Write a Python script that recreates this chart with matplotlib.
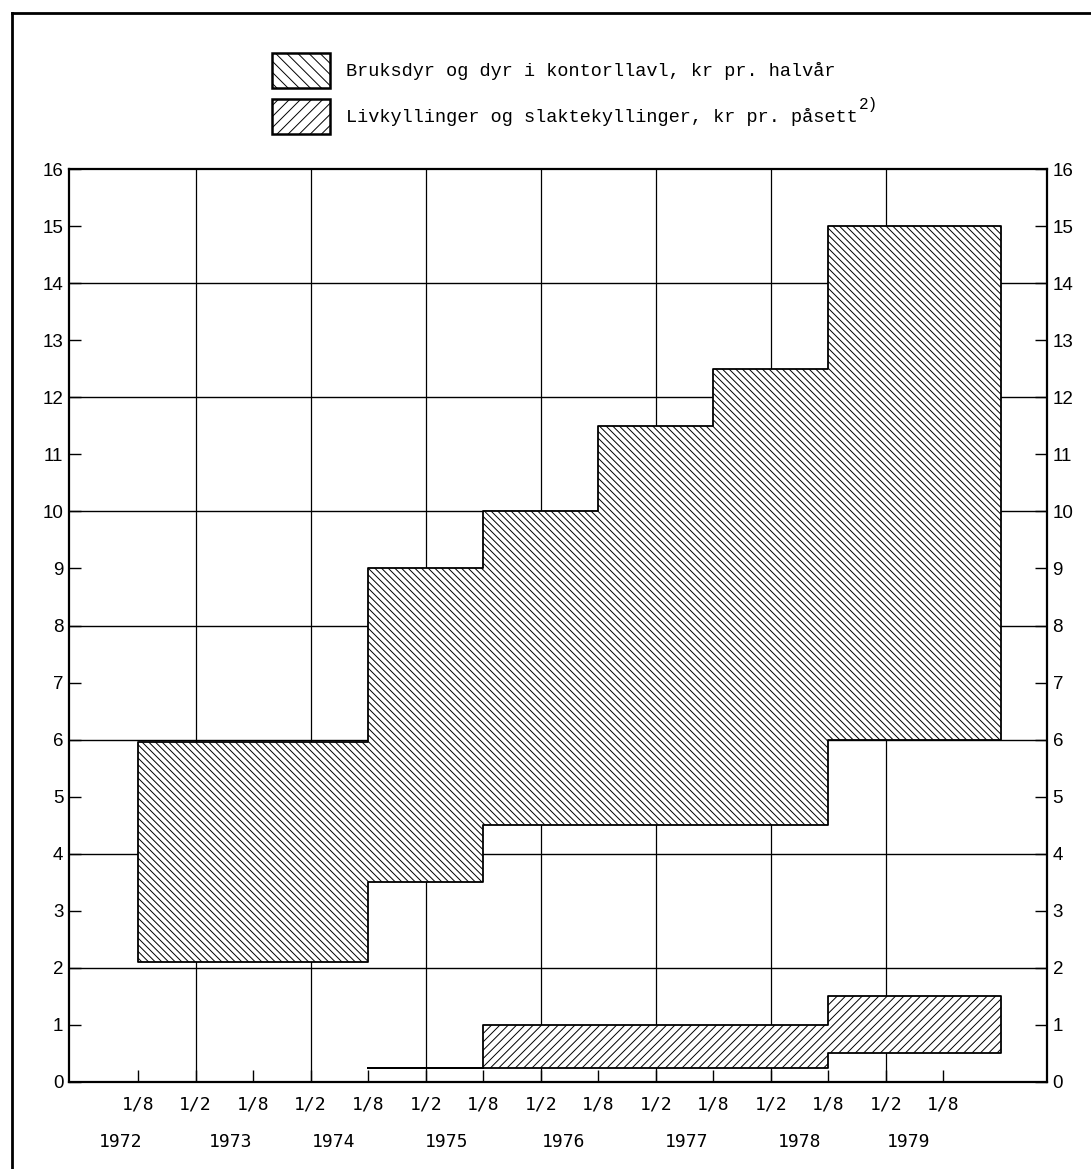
import numpy as np
import matplotlib
matplotlib.use("Agg")
import matplotlib.pyplot as plt
from matplotlib.patches import Rectangle
from matplotlib.lines import Line2D

plt.rcParams['hatch.linewidth'] = 0.7

# half-year periods, 0 = 1/8 1972, 1 = 1/2 1973, ...
tick_labels = ["1/8", "1/2"] * 7 + ["1/8"]
years = ["1972", "1973", "1974", "1975", "1976", "1977", "1978", "1979"]
year_pos = [-0.31, 1.6, 3.4, 5.37, 7.4, 9.53, 11.5, 13.4]

# Bruksdyr og dyr i kontorllavl (period edges, low, high)
bruks_edges = [0, 4, 6, 8, 10, 12, 15]
bruks_low = [2.1, 3.5, 4.5, 4.5, 4.5, 6.0]
bruks_high = [5.95, 9.0, 10.0, 11.5, 12.5, 15.0]

# Livkyllinger og slaktekyllinger
livk_edges = [4, 6, 12, 15]
livk_low = [0.25, 0.25, 0.5]
livk_high = [0.25, 1.0, 1.5]

W, H = 1091, 1169
fig = plt.figure(figsize=(W / 100, H / 100), dpi=100)
ax = fig.add_axes([69 / W, 1 - 1082 / H, (1047 - 69) / W, 913 / H])

# grid
for y in range(2, 16, 2):
    ax.axhline(y, color="black", lw=1.0, zorder=1)
for x in range(1, 14, 2):
    ax.axvline(x, color="black", lw=0.9, zorder=1)

# stepped bands
ax.fill_between(bruks_edges, bruks_low + bruks_low[-1:], bruks_high + bruks_high[-1:],
                step="post", facecolor="white", edgecolor="black", lw=1.3,
                hatch="\\" * 5, zorder=2)
ax.fill_between(livk_edges, livk_low + livk_low[-1:], livk_high + livk_high[-1:],
                step="post", facecolor="white", edgecolor="black", lw=1.3,
                hatch="////", zorder=2)

ax.set_xlim(-1.2, 15.8)
ax.set_ylim(0, 16)

ax.set_xticks(range(len(tick_labels)))
ax.set_xticklabels(tick_labels, family="DejaVu Sans Mono", fontsize=13)
ax.set_yticks(range(0, 17))
ax.tick_params(axis="x", direction="in", length=8.6, width=1.0, pad=10, bottom=True, top=False)
ax.tick_params(axis="y", direction="in", length=8.6, width=1.0, left=True, right=True,
               labelleft=True, labelright=True, labelsize=13.5, pad=4)
for lab in ax.get_yticklabels():
    lab.set_family("Liberation Sans")

for s in ax.spines.values():
    s.set_linewidth(1.6)

xform = ax.get_xaxis_transform()
for yr, xp in zip(years, year_pos):
    ax.text(xp, -0.066, yr, transform=xform, ha="center", va="center",
            family="DejaVu Sans Mono", fontsize=13)

# legend
legend_items = [
    ("\\\\\\", "Bruksdyr og dyr i kontorllavl, kr pr. halvår", 53),
    ("///", "Livkyllinger og slaktekyllinger, kr pr. påsett", 99),
]
for hatch, label, ytop in legend_items:
    fig.patches.append(Rectangle((272 / W, 1 - (ytop + 35) / H), 58 / W, 35 / H,
                                 transform=fig.transFigure, facecolor="white",
                                 edgecolor="black", lw=1.8, hatch=hatch))
    t = fig.text(346 / W, 1 - (ytop + 18) / H, label, family="Liberation Mono",
                 fontsize=13.4, va="center", ha="left")
last = t
ax.annotate("2)", xy=(1, 0.8), xycoords=last, xytext=(1, 0),
            textcoords="offset points", family="Liberation Mono", fontsize=11.5,
            va="bottom", ha="left", annotation_clip=False)

# outer frame (left and top edges)
fig.lines.append(Line2D([12 / W, 12 / W], [0, 1 - 13 / H], transform=fig.transFigure,
                        color="black", lw=2.0))
fig.lines.append(Line2D([12 / W, 1], [1 - 13 / H, 1 - 13 / H], transform=fig.transFigure,
                        color="black", lw=2.0))

fig.savefig("out.png", dpi=100, facecolor="white")
